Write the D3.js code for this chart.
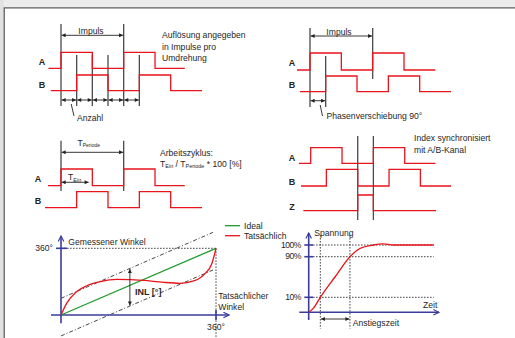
<!DOCTYPE html>
<html>
<head>
<meta charset="utf-8">
<script src="https://cdn.jsdelivr.net/npm/d3@7"></script>
<style>
  body { margin: 0; background: #fff; }
  text { font-family: "Liberation Sans", Arial, sans-serif; fill: #262626; font-size: 8.6px; }
  .lbl { font-weight: bold; font-size: 9px; }
  .sig { fill: none; stroke: #e8141c; stroke-width: 1.3; }
  .mark { stroke: #4a4a4a; stroke-width: 1.3; }
  .dim { stroke: #222; stroke-width: 0.9; }
  .dot { stroke: #333; stroke-width: 0.9; stroke-dasharray: 1.6,1.4; fill: none; }
  .dashdot { stroke: #333; stroke-width: 0.9; stroke-dasharray: 4,2,1,2; fill: none; }
  .ax { stroke: #3b3b9b; stroke-width: 1.6; fill: none; }
</style>
</head>
<body>
<svg width="515" height="338"></svg>
<script>
// ---- data ----
// encoder waveforms, time in quarter periods
const resA_t = [-0.8, 0, 2, 4, 6, 7.9], resA_v = [0, 1, 0, 1, 0, 0];
const resB_t = [-0.65, 1, 3, 5, 7, 9], resB_v = [0, 1, 0, 1, 0, 0];
const resMarks = [0, 1, 2, 3, 4, 5];
const phA_t = [-0.83, 0, 2, 4, 6, 8], phA_v = [0, 1, 0, 1, 0, 0];
const phB_t = [-0.64, 1, 3, 5, 7, 9], phB_v = [0, 1, 0, 1, 0, 0];
const dutyA_t = [-0.83, 0, 2, 4, 6, 7.9], dutyA_v = [0, 1, 0, 1, 0, 0];
const dutyB_t = [-1.02, 1, 3, 5, 7, 9], dutyB_v = [0, 1, 0, 1, 0, 0];
const dutyOn = 1.8;
const idxA_t = [-0.75, 0, 2, 4, 6, 7.96], idxA_v = [0, 1, 0, 1, 0, 0];
const idxB_t = [-0.62, 1, 3, 5, 7, 8.96], idxB_v = [0, 1, 0, 1, 0, 0];
const idxZ_t = [-0.47, 3, 4, 8], idxZ_v = [0, 1, 0, 0];
const idxMarks = [3, 4];

// linearity (degrees)
const idealX = [0, 360], idealY = [0, 360];
const actualX = [0, 13, 36, 60, 91, 130, 191, 235, 276, 310, 335, 350, 360];
const actualY = [0, 63, 126, 158, 180, 192, 187, 177, 171, 185, 225, 275, 360];
const boundX = [0, 353];
const upperY = [90, 446];
const lowerY = [-113, 243];
const inlAt = 160;

// rise time
const riseT = [0, 0.4, 0.93, 2.1, 3.3, 4.1, 5.17, 5.97, 6.77, 10];
const riseV = [0, 3, 10, 50, 90, 97, 100, 100.9, 100, 100];
const levels = [100, 90, 10];
const levelLabels = ["100%", "90%", "10%"];
const riseMarks = [0.93, 3.3];

// ---- drawing ----
const svg = d3.select("svg");
const defs = svg.append("defs");
defs.append("marker").attr("id", "ah")
    .attr("viewBox", "0 0 10 10").attr("refX", 10).attr("refY", 5)
    .attr("markerWidth", 5).attr("markerHeight", 4)
    .attr("markerUnits", "userSpaceOnUse").attr("orient", "auto-start-reverse")
  .append("path").attr("d", "M0,0L10,5L0,10z").attr("fill", "#222");
defs.append("marker").attr("id", "axh")
    .attr("viewBox", "0 0 10 10").attr("refX", 9).attr("refY", 5)
    .attr("markerWidth", 7).attr("markerHeight", 7)
    .attr("markerUnits", "userSpaceOnUse").attr("orient", "auto")
  .append("path").attr("d", "M1,1L9,5L1,9").attr("fill", "none")
    .attr("stroke", "#3b3b9b").attr("stroke-width", 1.6);

// frame
svg.append("rect").attr("width", 515).attr("height", 338).attr("fill", "#fff");
svg.append("rect").attr("width", 515).attr("height", 7.3).attr("fill", "#ececec");
svg.append("rect").attr("width", 3.6).attr("height", 338).attr("fill", "#e2e2e2");
svg.append("path").attr("d", "M4.2,338V7.8H515").attr("fill", "none")
   .attr("stroke", "#5c5c5c").attr("stroke-width", 1.3);

const txt = (x, y, s, cls, anchor) =>
  svg.append("text").attr("x", x).attr("y", y).attr("class", cls || null)
     .attr("text-anchor", anchor || "start").text(s);

const drawWave = (t, v, x, y) =>
  svg.append("path").attr("class", "sig")
     .attr("d", d3.line().x(d => x(d[0])).y(d => y(d[1])).curve(d3.curveStepAfter)(d3.zip(t, v)));

const vline = (x, y1, y2, cls) =>
  svg.append("line").attr("class", cls || "mark").attr("x1", x).attr("x2", x).attr("y1", y1).attr("y2", y2);

const dimArrow = (x1, x2, y) =>
  svg.append("line").attr("class", "dim").attr("x1", x1 + 0.6).attr("x2", x2 - 0.6)
     .attr("y1", y).attr("y2", y)
     .attr("marker-start", "url(#ah)").attr("marker-end", "url(#ah)");

const unit = 15.67;

// -- panel 1: resolution
const x1 = d3.scaleLinear().domain([0, 1]).range([61, 61 + unit]);
resMarks.forEach(m => vline(x1(m), m % 4 === 0 ? 24 : 55, 106));
drawWave(resA_t, resA_v, x1, d3.scaleLinear().domain([0, 1]).range([68.3, 52.3]));
drawWave(resB_t, resB_v, x1, d3.scaleLinear().domain([0, 1]).range([90.7, 75]));
d3.pairs(resMarks).forEach(p => dimArrow(x1(p[0]), x1(p[1]), 100));
dimArrow(x1(0), x1(4), 35.3);
txt(91, 34.3, "Impuls", null, "middle");
txt(42, 65.3, "A", "lbl", "middle");
txt(42, 87.7, "B", "lbl", "middle");
txt(162, 38.4, "Auflösung angegeben");
txt(162, 49.7, "in Impulse pro");
txt(162, 61, "Umdrehung");
svg.append("line").attr("class", "dim").attr("x1", x1(0.65)).attr("y1", 104).attr("x2", 74).attr("y2", 116);
txt(77, 120.5, "Anzahl");

// -- panel 2: phase shift
const x2 = d3.scaleLinear().domain([0, 1]).range([310, 310 + unit]);
vline(x2(0), 28, 107); vline(x2(1), 56, 107); vline(x2(4), 28, 79);
drawWave(phA_t, phA_v, x2, d3.scaleLinear().domain([0, 1]).range([70, 53]));
drawWave(phB_t, phB_v, x2, d3.scaleLinear().domain([0, 1]).range([91.7, 76]));
dimArrow(x2(0), x2(4), 36);
dimArrow(x2(0), x2(1), 100.7);
txt(339, 35, "Impuls", null, "middle");
txt(292, 66, "A", "lbl", "middle");
txt(292, 88.3, "B", "lbl", "middle");
svg.append("line").attr("class", "dim").attr("x1", x2(0.65)).attr("y1", 105).attr("x2", 322.5).attr("y2", 116);
txt(326.5, 119.4, "Phasenverschiebung 90°");

// -- panel 3: duty cycle
const x3 = d3.scaleLinear().domain([0, 1]).range([61, 61 + unit]);
vline(x3(0), 140.7, 191); vline(x3(4), 140.7, 191);
drawWave(dutyA_t, dutyA_v, x3, d3.scaleLinear().domain([0, 1]).range([185.7, 169]));
drawWave(dutyB_t, dutyB_v, x3, d3.scaleLinear().domain([0, 1]).range([207.7, 191.7]));
dimArrow(x3(0), x3(4), 152.3);
dimArrow(x3(0), x3(dutyOn), 182.3);
const tP = txt(77.5, 146, "T");
tP.append("tspan").attr("font-size", 5).attr("dy", 1).text("Periode");
const tE = txt(68, 180, "T");
tE.append("tspan").attr("font-size", 5.5).attr("dy", 1.5).text("Ein");
txt(38, 182.3, "A", "lbl", "middle");
txt(38, 204, "B", "lbl", "middle");
txt(160, 155.5, "Arbeitszyklus:");
const f = txt(160, 166.5, "T");
f.append("tspan").attr("font-size", 5.5).attr("dy", 1.5).text("Ein");
f.append("tspan").attr("dy", -1.5).text(" / T");
f.append("tspan").attr("font-size", 5.5).attr("dy", 1.5).text("Periode");
f.append("tspan").attr("dy", -1.5).text(" * 100 [%]");

// -- panel 4: index
const x4 = d3.scaleLinear().domain([0, 1]).range([310.7, 310.7 + unit]);
idxMarks.forEach(m => vline(x4(m), 136, 220).attr("stroke", "#111"));
drawWave(idxA_t, idxA_v, x4, d3.scaleLinear().domain([0, 1]).range([163.3, 147.7]));
drawWave(idxB_t, idxB_v, x4, d3.scaleLinear().domain([0, 1]).range([186, 169.3]));
drawWave(idxZ_t, idxZ_v, x4, d3.scaleLinear().domain([0, 1]).range([210.7, 195]));
txt(292, 161, "A", "lbl", "middle");
txt(292, 184.5, "B", "lbl", "middle");
txt(292, 210, "Z", "lbl", "middle");
txt(414, 141, "Index synchronisiert");
txt(414, 152.7, "mit A/B-Kanal");

// -- panel 5: linearity
const lx = d3.scaleLinear().domain([0, 360]).range([61, 216]);
const ly = d3.scaleLinear().domain([0, 360]).range([315, 248.3]);
const up = d3.scaleLinear().domain(boundX).range(upperY);
const lo = d3.scaleLinear().domain(boundX).range(lowerY);
svg.append("line").attr("class", "dot").attr("x1", lx(0)).attr("x2", lx(360)).attr("y1", ly(360)).attr("y2", ly(360));
svg.append("line").attr("class", "dot").attr("x1", lx(360)).attr("x2", lx(360)).attr("y1", ly(360)).attr("y2", 338);
svg.append("line").attr("class", "dashdot").attr("x1", lx(boundX[0])).attr("y1", ly(upperY[0])).attr("x2", lx(boundX[1])).attr("y2", ly(upperY[1]));
svg.append("line").attr("class", "dashdot").attr("x1", lx(boundX[0])).attr("y1", ly(lowerY[0])).attr("x2", lx(boundX[1])).attr("y2", ly(lowerY[1]));
svg.append("path").attr("class", "ax").attr("d", `M${lx(0)},323.3V236`).attr("marker-end", "url(#axh)");
svg.append("path").attr("class", "ax").attr("d", `M51,${ly(0)}H229`).attr("marker-end", "url(#axh)");
svg.append("path").attr("class", "ax").attr("d", `M56,${ly(360)}H67`);
svg.append("path").attr("class", "ax").attr("d", `M${lx(360)},310V320`);
svg.append("path").attr("fill", "none").attr("stroke", "#1f9a2b").attr("stroke-width", 1.3)
   .attr("d", d3.line().x(d => lx(d[0])).y(d => ly(d[1]))(d3.zip(idealX, idealY)));
svg.append("path").attr("class", "sig")
   .attr("d", d3.line().x(d => lx(d[0])).y(d => ly(d[1])).curve(d3.curveMonotoneX)(d3.zip(actualX, actualY)));
svg.append("line").attr("class", "dim").attr("x1", lx(inlAt)).attr("x2", lx(inlAt))
   .attr("y1", ly(up(inlAt)) + 0.6).attr("y2", ly(lo(inlAt)) - 0.6)
   .attr("marker-start", "url(#ah)").attr("marker-end", "url(#ah)");
txt(135, 294.5, "INL [°]", "lbl");
txt(53, 251, "360°", null, "end").attr("font-size", 8);
txt(68.3, 245, "Gemessener Winkel");
txt(218.3, 298.8, "Tatsächlicher");
txt(218.3, 309.5, "Winkel");
txt(216, 330, "360°", null, "middle").attr("font-size", 8);
svg.append("line").attr("x1", 225).attr("x2", 240).attr("y1", 225.7).attr("y2", 225.7).attr("stroke", "#1f9a2b").attr("stroke-width", 1.3);
svg.append("line").attr("x1", 225).attr("x2", 240).attr("y1", 235.7).attr("y2", 235.7).attr("stroke", "#e8141c").attr("stroke-width", 1.3);
txt(244, 229, "Ideal");
txt(244, 239, "Tatsächlich");

// -- panel 6: rise time
const rx = d3.scaleLinear().domain([0, 10]).range([308.7, 433.7]);
const ry = d3.scaleLinear().domain([0, 10, 90, 100]).range([312.3, 297.3, 256.7, 245]);
levels.forEach((l, i) => {
  svg.append("line").attr("class", "dot").attr("x1", 313).attr("x2", rx(10)).attr("y1", ry(l)).attr("y2", ry(l));
  svg.append("path").attr("class", "ax").attr("d", `M304.3,${ry(l)}H313`);
  txt(301, ry(l) + 2.7, levelLabels[i], null, "end").attr("font-size", 7.6).attr("letter-spacing", -0.5);
});
riseMarks.forEach(t => vline(rx(t), 235, 328.5, "dot"));
svg.append("path").attr("class", "ax").attr("d", `M${rx(0)},320V233`).attr("marker-end", "url(#axh)");
svg.append("path").attr("class", "ax").attr("d", `M299.3,${ry(0)}H439`).attr("marker-end", "url(#axh)");
svg.append("path").attr("class", "sig")
   .attr("d", d3.line().x(d => rx(d[0])).y(d => ry(d[1])).curve(d3.curveMonotoneX)(d3.zip(riseT, riseV)));
dimArrow(rx(riseMarks[0]), rx(riseMarks[1]), 319);
txt(314.3, 236, "Spannung");
txt(423, 307.8, "Zeit");
txt(352.7, 325.5, "Anstiegszeit");
</script>
</body>
</html>
